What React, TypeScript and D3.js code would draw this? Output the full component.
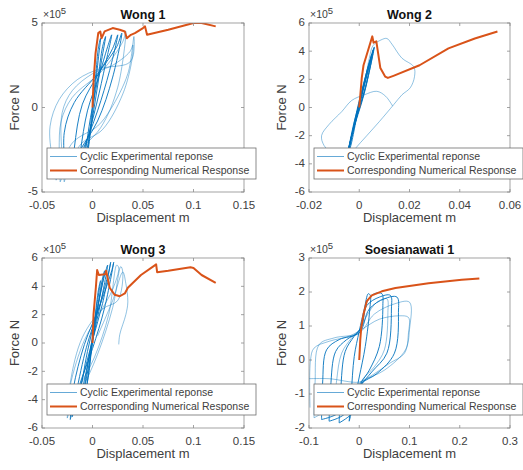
import * as d3 from 'd3'

type Pt = [number, number]

// displacement in m, force in 1e5 N (as in the ×10^5 axis)
const wong1Numerical: Pt[] = [
  [0, 0], [0.001, 1.5], [0.003, 3.2], [0.0057, 4.4], [0.0077, 4.5], [0.009, 4.1], [0.012, 4.5],
  [0.02, 4.7], [0.027, 4.6], [0.032, 4.5], [0.034, 4.1], [0.038, 4.3], [0.042, 4.4], [0.05, 4.7],
  [0.052, 4.8], [0.054, 4.3], [0.075, 4.6], [0.1, 5.0], [0.108, 5.0], [0.122, 4.8],
]
const wong1CyclicDark: Pt[][] = [
  [[-0.006, -3.2], [-0.002, -1.5], [0.002, 0.8], [0.006, 3.0], [0.008, 4.1], [0.006, 3.6], [0.003, 1.8], [-0.001, -0.5], [-0.004, -2.2], [-0.006, -3.2]],
  [[-0.01, -3.8], [-0.004, -2.0], [0.003, 0.5], [0.009, 2.8], [0.013, 4.2], [0.01, 3.6], [0.005, 1.6], [-0.002, -0.6], [-0.007, -2.6], [-0.01, -3.8]],
  [[-0.015, -4.0], [-0.007, -2.3], [0.004, 0.2], [0.013, 2.6], [0.019, 4.3], [0.015, 3.6], [0.006, 1.8], [-0.005, -0.2], [-0.012, -2.6], [-0.015, -4.0]],
  [[-0.02, -4.1], [-0.01, -2.6], [0.005, -0.2], [0.017, 2.2], [0.025, 4.3], [0.02, 3.5], [0.006, 2.0], [-0.01, 0.2], [-0.018, -2.4], [-0.02, -4.1]],
  [[-0.026, -4.2], [-0.015, -2.8], [0.005, -0.8], [0.02, 1.8], [0.029, 4.4], [0.024, 3.6], [0.005, 2.0], [-0.018, 0.3], [-0.028, -1.5], [-0.026, -4.2]],
]
const wong1CyclicLight: Pt[][] = [
  [[-0.032, -4.4], [-0.02, -3.0], [0.008, -1.2], [0.025, 1.2], [0.033, 4.5], [0.03, 3.9], [0.01, 2.2], [-0.02, 0.6], [-0.031, -0.8], [-0.033, -2.5], [-0.032, -4.4]],
  [[-0.036, -4.3], [-0.02, -2.1], [0.005, -1.1], [0.018, -0.1], [0.035, 2.0], [0.041, 4.2], [0.04, 3.0], [0.035, 2.6], [0.008, 2.3], [-0.015, 1.65], [-0.033, 0.47], [-0.042, -1.1], [-0.04, -3], [-0.036, -4.3]],
  [[-0.028, -4.4], [-0.012, -2.2], [0.01, -1.3], [0.03, 0.8], [0.039, 2.8], [0.04, 3.7], [0.037, 3.3], [0.02, 2.5], [0.0, 2.0], [-0.02, 1.0], [-0.03, -0.3], [-0.03, -3], [-0.028, -4.4]],
]

const wong2Numerical: Pt[] = [
  [0, 0], [0.001, 2.1], [0.0017, 3.0], [0.0034, 4.0], [0.0052, 5.05], [0.0057, 4.6], [0.0068, 4.7],
  [0.0084, 2.8], [0.0103, 2.2], [0.0114, 2.1], [0.0136, 2.25], [0.024, 3.0], [0.0355, 4.2],
  [0.046, 4.9], [0.055, 5.4],
]
const wong2CyclicDark: Pt[][] = [
  [[-0.004, -3.0], [-0.001, -0.5], [0.002, 1.8], [0.0045, 3.4], [0.0035, 2.9], [0.0, 0.2], [-0.0035, -2.8], [-0.004, -3.0]],
  [[-0.005, -3.6], [-0.002, -1.0], [0.002, 1.6], [0.005, 3.8], [0.004, 3.2], [0.0, 0.5], [-0.0045, -3.2], [-0.005, -3.6]],
  [[-0.0055, -4.0], [-0.002, -1.3], [0.0025, 1.5], [0.0055, 4.1], [0.0045, 3.5], [0.0005, 0.6], [-0.005, -3.5], [-0.0055, -4.0]],
  [[-0.006, -4.5], [-0.0025, -1.6], [0.0025, 1.4], [0.006, 4.3], [0.005, 3.7], [0.001, 0.8], [-0.0055, -4.0], [-0.006, -4.5]],
  [[-0.0065, -5.0], [-0.003, -2.0], [0.002, 1.0], [0.0058, 4.2], [0.0045, 3.3], [0.0, 0.3], [-0.006, -4.5], [-0.0065, -5.0]],
]
const wong2CyclicLight: Pt[][] = [
  [[0, 0], [0.002, 1.6], [0.004, 3.5], [0.0055, 4.4], [0.0087, 4.8], [0.011, 4.9], [0.013, 4.5], [0.017, 3.5],
    [0.0217, 2.9], [0.022, 2.2], [0.0203, 1.4], [0.017, 0.9], [0.0137, 0.2], [0.008, -1.0], [0.003, -2.0],
    [-0.002, -3.0], [-0.006, -3.9], [-0.01, -3.4], [-0.014, -2.7], [-0.015, -2.0], [-0.012, -1.2],
    [-0.007, -0.3], [-0.003, 0.5], [0.002, 0.9], [0.007, 1.15], [0.0105, 0.8], [0.0133, 0.1]],
]

const wong3Numerical: Pt[] = [
  [0, 0], [0.001, 2.0], [0.0033, 3.9], [0.0046, 5.15], [0.0063, 4.8], [0.0125, 4.85], [0.0135, 5.1],
  [0.017, 3.9], [0.022, 3.4], [0.027, 3.3], [0.032, 3.5], [0.035, 3.9], [0.048, 4.8], [0.062, 5.5],
  [0.063, 5.55], [0.064, 5.0], [0.075, 5.1], [0.097, 5.35], [0.1, 5.3], [0.108, 4.8], [0.122, 4.25],
]
const wong3CyclicDark: Pt[][] = [
  [[-0.008, -4.0], [-0.003, -1.8], [0.0, 0.3], [0.004, 2.5], [0.008, 4.4], [0.006, 3.8], [0.002, 1.5], [-0.002, -1.0], [-0.006, -3.2], [-0.008, -4.0]],
  [[-0.012, -4.6], [-0.006, -2.5], [0.0, 0.0], [0.006, 2.8], [0.012, 5.1], [0.01, 4.6], [0.004, 2.0], [-0.003, -0.8], [-0.009, -3.5], [-0.012, -4.6]],
  [[-0.016, -5.0], [-0.008, -2.6], [0.0, 0.2], [0.008, 2.8], [0.015, 5.5], [0.012, 4.8], [0.004, 2.2], [-0.005, -0.6], [-0.013, -3.8], [-0.016, -5.0]],
  [[-0.02, -5.2], [-0.011, -2.8], [0.0, 0.2], [0.01, 2.8], [0.018, 5.7], [0.016, 5.0], [0.006, 2.4], [-0.006, -0.3], [-0.016, -3.5], [-0.02, -5.2]],
  [[-0.022, -5.4], [-0.013, -3.0], [0.0, -0.4], [0.012, 2.5], [0.021, 5.7], [0.019, 5.1], [0.007, 2.6], [-0.008, -0.1], [-0.019, -3.2], [-0.022, -5.4]],
]
const wong3CyclicLight: Pt[][] = [
  [[-0.025, -5.3], [-0.015, -3.4], [0.002, -1.0], [0.016, 2.0], [0.024, 5.5], [0.026, 5.3], [0.02, 3.8], [0.008, 2.2], [-0.008, 0.2], [-0.022, -3.0], [-0.025, -5.3]],
  [[-0.024, -5.0], [-0.012, -3.5], [0.005, -0.8], [0.02, 2.5], [0.028, 5.4], [0.03, 5.0], [0.025, 3.0], [0.01, 2.4], [-0.01, 0.4], [-0.022, -2.8], [-0.024, -5.0]],
  [[0.005, 0.5], [0.02, 3.0], [0.03, 5.0], [0.033, 4.2], [0.035, 2.9], [0.033, 2.0], [0.027, 0.6], [0.026, -0.1]],
]

const soesNumerical: Pt[] = [
  [0, 0], [0.002, 0.58], [0.004, 0.96], [0.0086, 1.35], [0.015, 1.73], [0.025, 1.9], [0.045, 2.02],
  [0.072, 2.12], [0.138, 2.26], [0.204, 2.36], [0.239, 2.4],
]
const soesCyclicDark: Pt[][] = [
  [[-0.02, -1.8], [-0.016, -1.0], [-0.01, 0.1], [0.0, 0.85], [0.01, 1.5], [0.018, 1.95], [0.022, 1.9], [0.021, 1.5], [0.012, 0.4], [0.0, -0.5], [-0.01, -1.2], [-0.02, -1.8]],
  [[-0.04, -1.85], [-0.037, -0.9], [-0.028, 0.25], [-0.01, 0.7], [0.005, 1.0], [0.015, 1.7], [0.03, 1.95], [0.045, 1.95], [0.047, 1.6], [0.04, 0.4], [0.02, -0.3], [0.003, -0.7], [-0.01, -1.5], [-0.04, -1.85]],
  [[-0.06, -1.8], [-0.057, -0.8], [-0.047, 0.25], [-0.025, 0.6], [0.0, 0.85], [0.015, 1.6], [0.04, 1.85], [0.062, 1.9], [0.064, 1.5], [0.055, 0.2], [0.025, -0.35], [0.003, -0.75], [-0.03, -1.6], [-0.06, -1.8]],
  [[-0.075, -1.75], [-0.073, -0.7], [-0.065, 0.3], [-0.04, 0.6], [0.0, 0.8], [0.02, 1.5], [0.05, 1.8], [0.075, 1.85], [0.078, 1.4], [0.07, 0.2], [0.035, -0.4], [0.003, -0.7], [-0.04, -1.55], [-0.075, -1.75]],
]
const soesCyclicLight: Pt[][] = [
  [[-0.09, -1.7], [-0.088, -0.7], [-0.08, 0.45], [-0.05, 0.65], [0.0, 0.8], [0.03, 1.35], [0.07, 1.65], [0.1, 1.7], [0.1, 0.9], [0.092, 0.3], [0.05, -0.3], [0.003, -0.65], [-0.05, -1.35], [-0.09, -1.7]],
  [[-0.098, -1.4], [-0.097, 0.0], [-0.09, 0.35], [-0.06, 0.55], [-0.02, 0.7], [0.005, 0.9], [0.04, 1.2], [0.08, 1.3], [0.098, 1.25], [0.098, 0.8], [0.09, 0.2], [0.06, -0.1], [0.02, -0.5], [0.0, -0.65], [-0.06, -0.55], [-0.1, -0.55]],
  [[-0.05, -1.6], [-0.045, -0.6], [-0.035, 0.2], [-0.015, 0.65], [0.002, 0.9], [0.015, 1.3], [0.035, 1.7], [0.055, 1.8], [0.057, 1.4], [0.05, 0.3], [0.03, -0.2], [0.005, -0.6], [-0.02, -1.3], [-0.05, -1.6]],
]

const titles = ['Wong 1', 'Wong 2', 'Wong 3', 'Soesianawati 1']
const xTicksWong1 = [-0.05, 0, 0.05, 0.1, 0.15]
const xTicksWong2 = [-0.02, 0, 0.02, 0.04, 0.06]
const xTicksWong3 = [-0.05, 0, 0.05, 0.1, 0.15]
const xTicksSoes = [-0.1, 0, 0.1, 0.2, 0.3]
const yTicksWong1 = [-5, 0, 5]
const yTicksWong2 = [-6, -4, -2, 0, 2, 4, 6]
const yTicksWong3 = [-6, -4, -2, 0, 2, 4, 6]
const yTicksSoes = [-2, -1, 0, 1, 2, 3]
const legendLabels = ['Cyclic Experimental reponse', 'Corresponding Numerical Response']

const BLUE = '#0072BD'
const ORANGE = '#D95319'
const AXIS = '#8c8c8c'
const TEXT = '#404040'
const FONT = '"Liberation Sans", Arial, Helvetica, sans-serif'

const panels = [
  { title: titles[0], left: 42, top: 23, right: 244, bottom: 192, xTicks: xTicksWong1, yTicks: yTicksWong1, num: wong1Numerical, dark: wong1CyclicDark, light: wong1CyclicLight },
  { title: titles[1], left: 309, top: 23, right: 510, bottom: 192, xTicks: xTicksWong2, yTicks: yTicksWong2, num: wong2Numerical, dark: wong2CyclicDark, light: wong2CyclicLight },
  { title: titles[2], left: 42, top: 258, right: 244, bottom: 428, xTicks: xTicksWong3, yTicks: yTicksWong3, num: wong3Numerical, dark: wong3CyclicDark, light: wong3CyclicLight },
  { title: titles[3], left: 309, top: 258, right: 510, bottom: 428, xTicks: xTicksSoes, yTicks: yTicksSoes, num: soesNumerical, dark: soesCyclicDark, light: soesCyclicLight },
]

const fmt = (v: number) => String(+v.toFixed(4))

function Panel({ p, idx }: { p: (typeof panels)[number]; idx: number }) {
  const x = d3.scaleLinear().domain(d3.extent(p.xTicks) as [number, number]).range([p.left, p.right])
  const y = d3.scaleLinear().domain(d3.extent(p.yTicks) as [number, number]).range([p.bottom, p.top])
  const smooth = d3.line<Pt>().x(d => x(d[0])).y(d => y(d[1])).curve(d3.curveCatmullRom.alpha(0.5))
  const straight = d3.line<Pt>().x(d => x(d[0])).y(d => y(d[1]))
  const clipId = `clip${idx}`
  const cx = (p.left + p.right) / 2
  const cy = (p.top + p.bottom) / 2
  const lgX = p.left + 5
  const lgY = p.bottom - 44
  return (
    <g fontFamily={FONT}>
      <defs>
        <clipPath id={clipId}>
          <rect x={p.left} y={p.top} width={p.right - p.left} height={p.bottom - p.top} />
        </clipPath>
      </defs>
      <rect x={p.left} y={p.top} width={p.right - p.left} height={p.bottom - p.top} fill="#fff" />
      <g clipPath={`url(#${clipId})`} fill="none">
        {p.light.map((l, i) => (
          <path key={'l' + i} d={smooth(l) ?? ''} stroke={BLUE} strokeOpacity={0.55} strokeWidth={0.8} />
        ))}
        {p.dark.map((l, i) => (
          <path key={'d' + i} d={smooth(l) ?? ''} stroke={BLUE} strokeWidth={0.9} />
        ))}
        <path d={straight(p.num) ?? ''} stroke={ORANGE} strokeWidth={2} strokeLinejoin="round" />
      </g>
      <rect x={p.left} y={p.top} width={p.right - p.left} height={p.bottom - p.top} fill="none" stroke={AXIS} strokeWidth={0.8} />
      {p.xTicks.map(t => (
        <g key={'xt' + t}>
          <line x1={x(t)} x2={x(t)} y1={p.bottom} y2={p.bottom - 3} stroke={AXIS} strokeWidth={0.8} />
          <line x1={x(t)} x2={x(t)} y1={p.top} y2={p.top + 3} stroke={AXIS} strokeWidth={0.8} />
          <text x={x(t)} y={p.bottom + 17} textAnchor="middle" fontSize={11.5} fill={TEXT}>{fmt(t)}</text>
        </g>
      ))}
      {p.yTicks.map(t => (
        <g key={'yt' + t}>
          <line x1={p.left} x2={p.left + 3} y1={y(t)} y2={y(t)} stroke={AXIS} strokeWidth={0.8} />
          <line x1={p.right} x2={p.right - 3} y1={y(t)} y2={y(t)} stroke={AXIS} strokeWidth={0.8} />
          <text x={p.left - 4} y={y(t)} dy="0.3em" textAnchor="end" fontSize={11.5} fill={TEXT}>{fmt(t)}</text>
        </g>
      ))}
      <text x={p.left + 1} y={p.top - 5} fontSize={10.5} fill={TEXT}>
        ×10<tspan dy={-4} fontSize={9.5}>5</tspan>
      </text>
      <text x={cx} y={p.top - 4} textAnchor="middle" fontSize={12.5} fontWeight="bold" fill="#111">{p.title}</text>
      <text x={cx} y={p.bottom + 30} textAnchor="middle" fontSize={13} fill={TEXT}>Displacement m</text>
      <text transform={`translate(${p.left - 23},${cy}) rotate(-90)`} textAnchor="middle" fontSize={13} fill={TEXT}>Force N</text>
      <g>
        <rect x={lgX} y={lgY} width={209} height={31} fill="#fff" stroke="#6e6e6e" strokeWidth={0.8} />
        <line x1={lgX + 3} x2={lgX + 30} y1={lgY + 8.5} y2={lgY + 8.5} stroke={BLUE} strokeOpacity={0.6} strokeWidth={1} />
        <line x1={lgX + 3} x2={lgX + 30} y1={lgY + 22.5} y2={lgY + 22.5} stroke={ORANGE} strokeWidth={2} />
        <text x={lgX + 33} y={lgY + 8.5} dy="0.35em" fontSize={10.5} fill={TEXT}>{legendLabels[0]}</text>
        <text x={lgX + 33} y={lgY + 22.5} dy="0.35em" fontSize={10.5} fill={TEXT}>{legendLabels[1]}</text>
      </g>
    </g>
  )
}

export default function App() {
  return (
    <svg width={523} height={470} style={{ position: 'absolute', left: 0, top: 0, background: '#fff' }}>
      {panels.map((p, i) => (
        <Panel key={p.title} p={p} idx={i} />
      ))}
    </svg>
  )
}
